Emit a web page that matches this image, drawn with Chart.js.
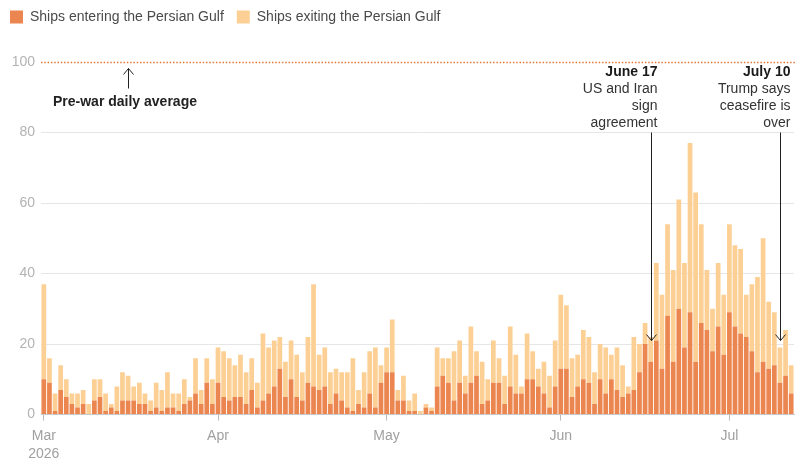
<!DOCTYPE html>
<html><head><meta charset="utf-8">
<script src="https://cdn.jsdelivr.net/npm/chart.js@4/dist/chart.umd.min.js"></script>
<style>html,body{margin:0;padding:0;background:#fff}#wrap{width:800px;height:471px;position:relative}</style>
</head><body><div id="wrap"><canvas id="c"></canvas></div>
<script>
// ---- data ----
const firstDay = '2026-03-01';
const dayCount = 134;
const categories = [];
for (let i = 0; i < dayCount; i++) {
  const d = new Date(Date.UTC(2026, 2, 1 + i));
  categories.push(d.toISOString().slice(0, 10));
}
const monthTickLabels = {
  '2026-03-01': ['Mar', '2026'],
  '2026-04-01': 'Apr',
  '2026-05-01': 'May',
  '2026-06-01': 'Jun',
  '2026-07-01': 'Jul'
};
const enteringShips = [
  10,9,1,7,5,3,2,3,0,4,
  5,1,2,1,4,4,4,3,3,1,
  2,1,2,2,1,3,4,6,3,9,
  3,9,5,4,5,5,3,7,2,4,
  6,8,13,5,10,5,4,9,8,7,
  8,3,6,4,2,1,3,2,6,2,
  9,12,12,4,4,1,1,0,2,1,
  8,11,9,4,9,6,9,11,3,4,
  9,9,3,8,6,6,10,10,8,6,
  2,8,13,13,5,8,10,9,3,10,
  6,10,7,5,6,7,12,20,15,21,
  13,28,15,30,19,29,15,26,24,18,
  25,17,29,25,23,22,18,12,15,13,
  14,9,11,6
];
const exitingShips = [
  27,7,5,7,5,3,4,4,3,6,
  5,5,1,7,8,7,4,6,3,3,
  7,6,10,4,5,7,1,10,4,7,
  7,10,13,12,9,12,9,9,7,19,
  13,13,9,10,11,12,8,13,29,10,
  11,9,7,8,10,15,4,10,12,17,
  5,7,15,3,7,3,5,1,1,1,
  11,5,7,14,12,5,16,7,12,6,
  12,7,8,17,11,2,13,8,5,9,
  9,13,21,18,11,9,14,13,9,10,
  13,7,12,9,2,15,8,6,7,22,
  21,26,26,31,24,48,48,28,17,12,
  18,17,25,23,24,12,19,27,35,19,
  15,10,13,8
];
const preWarAverage = 100;
const preWarLabel = 'Pre-war daily average';
const preWarArrowDate = '2026-03-16';
const events = [
  { date: '2026-06-17', title: 'June 17', lines: ['US and Iran', 'sign', 'agreement'], dx: 6, tipValue: 21 },
  { date: '2026-07-10', title: 'July 10', lines: ['Trump says', 'ceasefire is', 'over'], dx: 10, tipValue: 21 }
];

const COL_ENTER = '#ec8650';
const COL_EXIT = '#fcd095';
const FONT = '"Liberation Sans", Arial, Helvetica, sans-serif';

function arrow(ctx, x, yFrom, yTo) {
  ctx.beginPath();
  ctx.moveTo(x, yFrom);
  ctx.lineTo(x, yTo);
  const dir = yTo > yFrom ? -1 : 1;
  ctx.moveTo(x - 5, yTo + dir * 6);
  ctx.lineTo(x, yTo);
  ctx.lineTo(x + 5, yTo + dir * 6);
  ctx.stroke();
}

const annotations = {
  id: 'annotations',
  afterDatasetsDraw(chart) {
    const { ctx, chartArea: ca, scales: { x, y } } = chart;
    ctx.save();
    const yTop = Math.round(y.getPixelForValue(preWarAverage)) + 0.5;
    ctx.strokeStyle = '#e0783a';
    ctx.lineWidth = 1.5;
    ctx.setLineDash([1.5, 1.8]);
    ctx.beginPath(); ctx.moveTo(ca.left, yTop); ctx.lineTo(ca.right + 2, yTop); ctx.stroke();
    ctx.setLineDash([]);

    // pre-war label
    ctx.strokeStyle = '#222';
    ctx.lineWidth = 1;
    const px = Math.round(x.getPixelForValue(categories.indexOf(preWarArrowDate))) + 0.5;
    arrow(ctx, px, yTop + 26, yTop + 6);
    ctx.fillStyle = '#222';
    ctx.font = 'bold 14px ' + FONT;
    ctx.textAlign = 'left';
    ctx.textBaseline = 'middle';
    ctx.fillText(preWarLabel, ca.left + 12, yTop + 40);

    // events
    events.forEach(ev => {
      const ax = Math.round(x.getPixelForValue(categories.indexOf(ev.date))) + 0.5;
      const right = ax + ev.dx;
      ctx.textAlign = 'right';
      ctx.fillStyle = '#1a1a1a';
      ctx.font = 'bold 14px ' + FONT;
      ctx.fillText(ev.title, right, yTop + 10);
      ctx.fillStyle = '#333';
      ctx.font = '14px ' + FONT;
      ev.lines.forEach((l, i) => ctx.fillText(l, right, yTop + 27 + i * 17));
      arrow(ctx, ax, yTop + 70, y.getPixelForValue(ev.tipValue));
    });
    ctx.restore();
  }
};

const legendSpacer = {
  id: 'legendSpacer',
  beforeInit(chart) {
    const orig = chart.legend.fit;
    chart.legend.fit = function () { orig.bind(chart.legend)(); this.height += 28; };
  }
};

const isMonth = (i) => monthTickLabels[categories[i]] !== undefined;

new Chart(document.getElementById('c'), {
  type: 'bar',
  data: {
    labels: categories,
    datasets: [
      { label: 'Ships entering the Persian Gulf', data: enteringShips, backgroundColor: COL_ENTER, stack: 's', barPercentage: 0.84, categoryPercentage: 1 },
      { label: 'Ships exiting the Persian Gulf', data: exitingShips, backgroundColor: COL_EXIT, stack: 's', barPercentage: 0.84, categoryPercentage: 1 }
    ]
  },
  options: {
    responsive: true,
    maintainAspectRatio: false,
    animation: false,
    layout: { padding: { left: -3, right: 6, top: -3, bottom: 2 } },
    plugins: {
      legend: {
        display: true,
        position: 'top',
        align: 'start',
        labels: { boxWidth: 13, boxHeight: 13, padding: 13, color: '#4a4a4a', font: { size: 14, family: FONT } }
      },
      tooltip: { enabled: false }
    },
    scales: {
      x: {
        stacked: true,
        grid: {
          offset: false,
          drawOnChartArea: false,
          drawTicks: true,
          tickLength: 6,
          color: (c) => isMonth(c.index) ? '#bbb' : 'rgba(0,0,0,0)',
          tickColor: (c) => isMonth(c.index) ? '#bbb' : 'rgba(0,0,0,0)'
        },
        border: { display: true, color: '#c8c8c8', width: 1 },
        ticks: {
          autoSkip: false,
          maxRotation: 0,
          padding: 6,
          color: '#a0a0a0',
          font: { size: 14, family: FONT, lineHeight: 1.3 },
          callback: function (v, i) { return monthTickLabels[categories[i]] || ''; }
        }
      },
      y: {
        stacked: true,
        min: 0, max: 100,
        afterFit: (s) => { s.width = 44; },
        grid: {
          drawTicks: false,
          color: (c) => (c.tick && (c.tick.value === 100 || c.tick.value === 0)) ? 'rgba(0,0,0,0)' : '#e6e6e6'
        },
        border: { display: false },
        ticks: { stepSize: 20, padding: 6, color: '#b3b3b3', font: { size: 14, family: FONT } }
      }
    }
  },
  plugins: [legendSpacer, annotations]
});
</script>
</body></html>
